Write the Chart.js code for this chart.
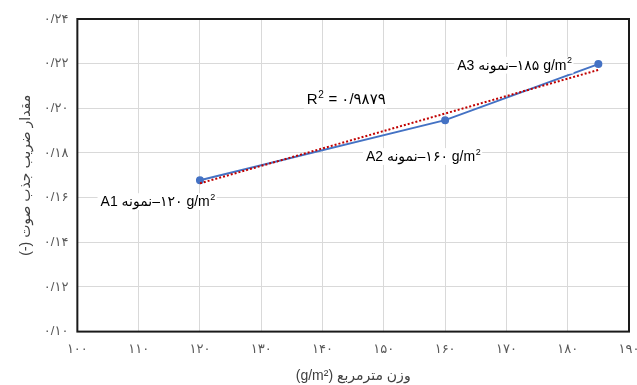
<!DOCTYPE html>
<html lang="fa">
<head>
    <meta charset="UTF-8">
    <title>Sound absorption vs areal weight</title>
    <script src="https://cdn.jsdelivr.net/npm/chart.js"></script>
    <style>
        html, body { margin: 0; padding: 0; background: #fff; }
        #wrap { width: 637px; height: 385px; }
    </style>
</head>
<body>
    <div id="wrap"><canvas id="absorptionChart"></canvas></div>

    <script>
        // samples: areal weight (g/m2) vs absorption coefficient
        const weights = [120, 160, 185];
        const absorption = [0.1678, 0.1947, 0.2198];

        // linear trendline end points
        const trendX = [120, 185];
        const trendY = [0.1664, 0.2172];

        const xTickLabels = ['۱۰۰', '۱۱۰', '۱۲۰', '۱۳۰', '۱۴۰', '۱۵۰', '۱۶۰', '۱۷۰', '۱۸۰', '۱۹۰'];
        const yTickLabels = ['۰/۱۰', '۰/۱۲', '۰/۱۴', '۰/۱۶', '۰/۱۸', '۰/۲۰', '۰/۲۲', '۰/۲۴'];

        const sampleLabels = [
            { x: 113.1, y: 0.1579, text: 'A1 نمونه\u200E–۱۲۰ g/m' },
            { x: 156.4, y: 0.1781, text: 'A2 نمونه\u200E–۱۶۰ g/m' },
            { x: 171.3, y: 0.2190, text: 'A3 نمونه\u200E–۱۸۵ g/m' }
        ];
        const r2Text = { x: 143.8, y: 0.2036, value: '۰/۹۸۷۹' };

        const FONT = '"Liberation Sans", Arial, "DejaVu Sans", sans-serif';

        // text with a superscript "2", on a white box
        function drawSup(ctx, cx, cy, main, tail, size, box) {
            ctx.font = size + 'px ' + FONT;
            const w1 = ctx.measureText(main).width;
            ctx.font = Math.round(size * 0.65) + 'px ' + FONT;
            const w2 = ctx.measureText('2').width;
            ctx.font = size + 'px ' + FONT;
            const w3 = tail ? ctx.measureText(tail).width : 0;
            const total = w1 + w2 + w3;
            const left = cx - total / 2;
            if (box) {
                ctx.fillStyle = '#ffffff';
                ctx.fillRect(left - 3, cy - size * 0.65, total + 5, size * 1.2);
            }
            ctx.fillStyle = '#000000';
            ctx.textBaseline = 'middle';
            ctx.textAlign = 'left';
            ctx.fillText(main, left, cy);
            ctx.font = Math.round(size * 0.65) + 'px ' + FONT;
            ctx.fillText('2', left + w1 + 0.5, cy - size * 0.35);
            if (tail) {
                ctx.font = size + 'px ' + FONT;
                ctx.fillText(tail, left + w1 + w2 + 1, cy);
            }
        }

        const annotationPlugin = {
            id: 'annotations',
            afterDatasetsDraw(chart) {
                const ctx = chart.ctx;
                const xs = chart.scales.x, ys = chart.scales.y;
                ctx.save();
                sampleLabels.forEach(l => {
                    drawSup(ctx, xs.getPixelForValue(l.x), ys.getPixelForValue(l.y), l.text, '', 14, true);
                });
                drawSup(ctx, xs.getPixelForValue(r2Text.x), ys.getPixelForValue(r2Text.y), 'R', ' = ' + r2Text.value, 15, true);
                ctx.restore();
            },
            afterDraw(chart) {
                const a = chart.chartArea;
                const ctx = chart.ctx;
                ctx.save();
                ctx.strokeStyle = '#1a1a1a';
                ctx.lineWidth = 2;
                ctx.strokeRect(a.left, a.top, a.right - a.left, a.bottom - a.top);
                ctx.restore();
            }
        };

        const ctx = document.getElementById('absorptionChart').getContext('2d');
        new Chart(ctx, {
            type: 'scatter',
            data: {
                datasets: [
                    {
                        label: 'trend',
                        data: trendX.map((x, i) => ({ x: x, y: trendY[i] })),
                        showLine: true,
                        borderColor: '#C00000',
                        borderWidth: 2,
                        borderDash: [2, 2],
                        pointRadius: 0,
                        fill: false
                    },
                    {
                        label: 'samples',
                        data: weights.map((x, i) => ({ x: x, y: absorption[i] })),
                        showLine: true,
                        borderColor: '#4472C4',
                        backgroundColor: '#4472C4',
                        borderWidth: 2,
                        pointRadius: 3,
                        fill: false
                    }
                ]
            },
            options: {
                responsive: true,
                maintainAspectRatio: false,
                animation: false,
                layout: { padding: { left: 18, right: 8, top: 19, bottom: 0 } },
                plugins: {
                    legend: { display: false },
                    tooltip: { enabled: false }
                },
                scales: {
                    x: {
                        type: 'linear',
                        min: 100,
                        max: 190,
                        afterFit: (s) => { s.paddingRight = 0; s.paddingLeft = 0; },
                        ticks: {
                            stepSize: 10,
                            color: '#595959',
                            padding: 10,
                            font: { size: 13, family: FONT },
                            callback: (v) => xTickLabels[Math.round((v - 100) / 10)]
                        },
                        grid: { color: '#d9d9d9', tickLength: 0 },
                        border: { display: false },
                        title: {
                            display: true,
                            text: '\u202Bوزن مترمربع (g/m²)\u202C',
                            color: '#404040',
                            font: { size: 14, family: FONT },
                            padding: { top: 1, bottom: 0 }
                        }
                    },
                    y: {
                        min: 0.10,
                        max: 0.24,
                        ticks: {
                            stepSize: 0.02,
                            color: '#595959',
                            padding: 9,
                            font: { size: 13, family: FONT },
                            callback: (v) => yTickLabels[Math.round((v - 0.10) / 0.02)]
                        },
                        grid: { color: '#d9d9d9', tickLength: 0 },
                        border: { display: false },
                        title: {
                            display: true,
                            text: '\u202Bمقدار ضریب جذب صوت (-)\u202C',
                            color: '#404040',
                            font: { size: 14, family: FONT },
                            padding: { top: 0, bottom: 0 }
                        }
                    }
                }
            },
            plugins: [annotationPlugin]
        });
    </script>
</body>
</html>
